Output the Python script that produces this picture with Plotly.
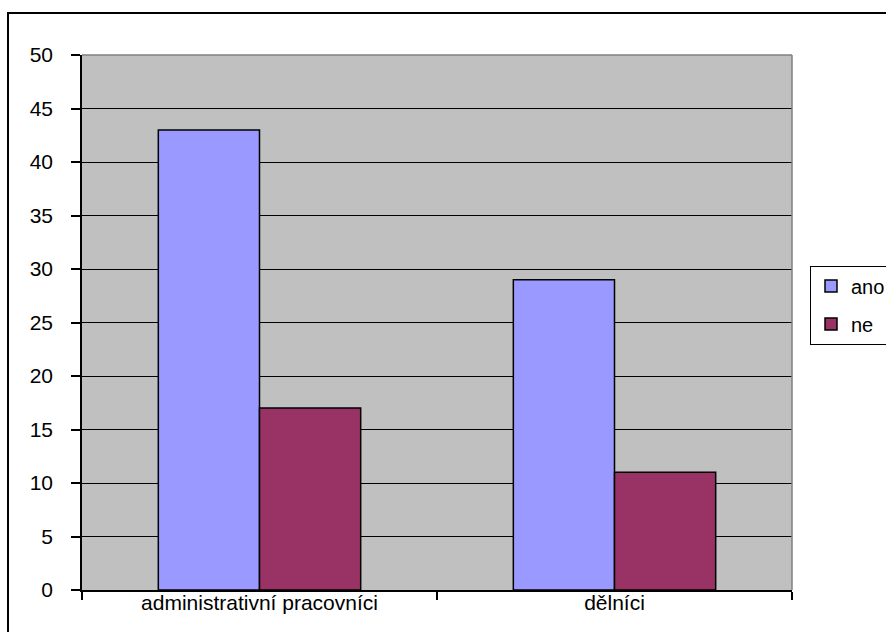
import plotly.graph_objects as go

categories = ["administrativní pracovníci", "dělníci"]
ano = [43, 29]
ne = [17, 11]
series_names = ["ano", "ne"]
y_ticks = [0, 5, 10, 15, 20, 25, 30, 35, 40, 45, 50]

W, H = 886, 632
L, R, T, B = 82, 792, 55, 590
pw, ph = R - L, B - T

fig = go.Figure()
fig.add_trace(go.Bar(name=series_names[0], x=categories, y=ano, legendgroup="g1",
                     marker=dict(color="#9999FF", line=dict(color="black", width=1.5))))
fig.add_trace(go.Bar(name=series_names[1], x=categories, y=ne, legendgroup="g2",
                     marker=dict(color="#993366", line=dict(color="black", width=1.5))))

font = dict(family="Liberation Sans, Arial", size=21, color="black")

fig.update_layout(
    width=W, height=H,
    margin=dict(l=L, r=W - R, t=T, b=H - B, pad=0, autoexpand=False),
    paper_bgcolor="white",
    plot_bgcolor="#C0C0C0",
    barmode="group", bargap=0.43, bargroupgap=0,
    font=font,
    showlegend=True,
    legend=dict(x=(810 - L) / pw, y=(B - 305) / ph, xanchor="left", yanchor="middle",
                bordercolor="black", borderwidth=1, bgcolor="white",
                font=dict(family="Liberation Sans, Arial", size=20, color="black"),
                itemwidth=30, tracegroupgap=9),
    xaxis=dict(type="category", tickson="boundaries", ticks="outside", ticklen=8,
               tickcolor="black", tickwidth=1.5, showgrid=False,
               showline=True, linecolor="black", linewidth=1.5,
               tickfont=font, ticklabelstandoff=-7),
    yaxis=dict(range=[0, 50], tickvals=y_ticks, ticks="outside", ticklen=9,
               tickcolor="black", tickwidth=1.5, showgrid=True, gridcolor="black",
               gridwidth=1, showline=True, linecolor="black", linewidth=1.5,
               zeroline=False, tickfont=font, ticklabelstandoff=14),
    shapes=[
        dict(type="line", xref="paper", yref="paper", x0=0, x1=1, y0=1, y1=1,
             line=dict(color="#808080", width=1.5), layer="above"),
        dict(type="line", xref="paper", yref="paper", x0=1, x1=1, y0=0, y1=1,
             line=dict(color="#808080", width=1.5), layer="above"),
        dict(type="rect", xref="paper", yref="paper",
             x0=(8 - L) / pw, x1=(900 - L) / pw,
             y0=(B - 640) / ph, y1=(B - 13) / ph,
             line=dict(color="black", width=2), fillcolor="rgba(0,0,0,0)", layer="above"),
    ],
)

fig.write_html("out.html")
